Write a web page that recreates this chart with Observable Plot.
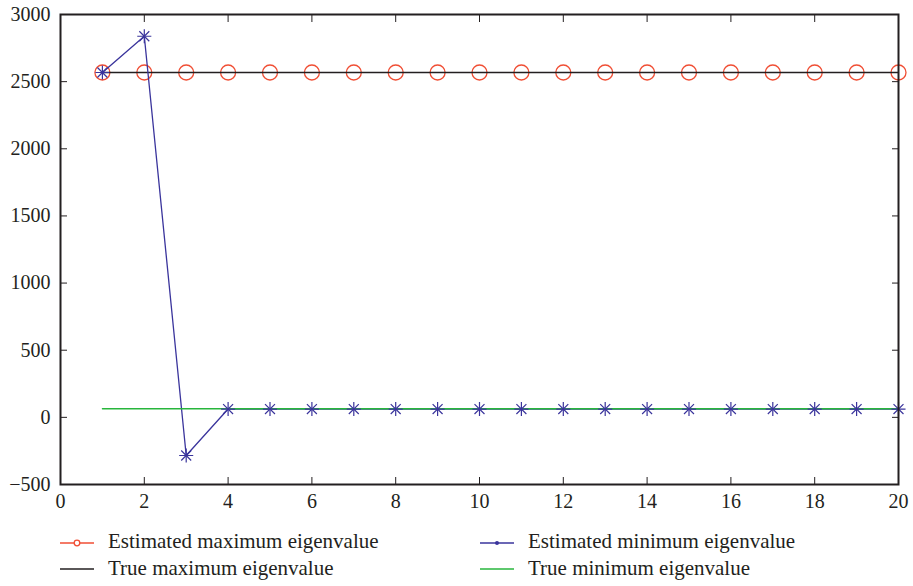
<!DOCTYPE html>
<html>
<head>
<meta charset="utf-8">
<script src="https://cdn.jsdelivr.net/npm/d3@7"></script>
<script src="https://cdn.jsdelivr.net/npm/@observablehq/plot@0.6"></script>
<style>
  html, body { margin: 0; padding: 0; background: #fff; }
  #wrap { position: relative; width: 913px; height: 586px; background: #fff; font-family: "Liberation Serif", "Times New Roman", serif; color: #231f20; }
  #chart svg { display: block; }
  .lg-text { position: absolute; font-size: 21px; line-height: 24px; white-space: nowrap; font-family: "Liberation Serif", "Times New Roman", serif; }
  #legend-sw { position: absolute; left: 0; top: 0; }
</style>
</head>
<body>
<div id="wrap">
  <div id="chart"></div>
</div>
<script>
// ---- data ----
const iterations = [1,2,3,4,5,6,7,8,9,10,11,12,13,14,15,16,17,18,19,20];
const estimatedMax = [2568,2568,2568,2568,2568,2568,2568,2568,2568,2568,2568,2568,2568,2568,2568,2568,2568,2568,2568,2568];
const estimatedMin = [2568,2838,-284,62,62,62,62,62,62,62,62,62,62,62,62,62,62,62,62,62];
const trueMax = [2568,2568,2568,2568,2568,2568,2568,2568,2568,2568,2568,2568,2568,2568,2568,2568,2568,2568,2568,2568];
const trueMin = [64,64,64,64,64,64,64,64,64,64,64,64,64,64,64,64,64,64,64,64];
const xTicks = [0,2,4,6,8,10,12,14,16,18,20];
const yTicks = [-500,0,500,1000,1500,2000,2500,3000];
const seriesNames = ["Estimated maximum eigenvalue", "Estimated minimum eigenvalue", "True maximum eigenvalue", "True minimum eigenvalue"];

const RED = "rgb(240,78,52)";
const BLUE = "rgb(58,52,156)";
const GREEN = "rgb(40,182,60)";
const BLACK = "#231f20";
const FONT = "'Liberation Serif', 'Times New Roman', serif";

const rows = (ys) => iterations.map((x, i) => ({x, y: ys[i]}));
const dMaxE = rows(estimatedMax), dMinE = rows(estimatedMin), dMaxT = rows(trueMax), dMinT = rows(trueMin);
const fmt = d3.format("d");

const chart = Plot.plot({
  width: 913,
  height: 515,
  marginLeft: 60,
  marginRight: 15,
  marginTop: 14,
  marginBottom: 31,
  x: {domain: [0, 20], label: null},
  y: {domain: [-500, 3000], label: null},
  style: {fontFamily: FONT, fontSize: "20px", color: BLACK, background: "white", overflow: "visible"},
  marks: [
    Plot.axisX({anchor: "bottom", ticks: xTicks, tickFormat: fmt, tickSize: -7, tickPadding: 16, stroke: BLACK, fill: BLACK, fontFamily: FONT, fontSize: 20}),
    Plot.axisY({anchor: "left", ticks: yTicks, tickFormat: fmt, tickSize: -7, tickPadding: 17, stroke: BLACK, fill: BLACK, fontFamily: FONT, fontSize: 20}),
    Plot.axisX({anchor: "top", ticks: xTicks, tickSize: -7, tickFormat: () => "", stroke: BLACK}),
    Plot.axisY({anchor: "right", ticks: yTicks, tickSize: -7, tickFormat: () => "", stroke: BLACK}),
    Plot.lineY(dMaxE, {x: "x", y: "y", stroke: RED, strokeWidth: 1.2}),
    Plot.dot(dMaxE, {x: "x", y: "y", r: 7.5, stroke: RED, strokeWidth: 1.3, fill: "none"}),
    Plot.lineY(dMaxT, {x: "x", y: "y", stroke: BLACK, strokeWidth: 1.3}),
    Plot.lineY(dMinE, {x: "x", y: "y", stroke: BLUE, strokeWidth: 1.3}),
    Plot.lineY(dMinT, {x: "x", y: "y", stroke: GREEN, strokeWidth: 1.3}),
    Plot.dot(dMinE, {x: "x", y: "y", symbol: "plus", r: 4.6, stroke: BLUE, strokeWidth: 1.2}),
    Plot.dot(dMinE, {x: "x", y: "y", symbol: "times", r: 4.6, stroke: BLUE, strokeWidth: 1.2}),
    Plot.frame({stroke: BLACK, strokeWidth: 2})
  ]
});
document.getElementById("chart").appendChild(chart);

// ---- legend (HTML below the SVG) ----
const wrap = document.getElementById("wrap");
const legendItems = [
  {name: seriesNames[0], color: RED, marker: "circle", sx: 60, tx: 108, row: 0},
  {name: seriesNames[1], color: BLUE, marker: "dot", sx: 480, tx: 528, row: 0},
  {name: seriesNames[2], color: BLACK, marker: null, sx: 60, tx: 108, row: 1},
  {name: seriesNames[3], color: GREEN, marker: null, sx: 480, tx: 528, row: 1}
];
const rowMid = [543, 569];
const rowTop = [529, 556];
const ns = "http://www.w3.org/2000/svg";
const sw = document.createElementNS(ns, "svg");
sw.setAttribute("id", "legend-sw");
sw.setAttribute("width", 913);
sw.setAttribute("height", 586);
sw.style.pointerEvents = "none";
for (const it of legendItems) {
  const y = rowMid[it.row];
  const ln = document.createElementNS(ns, "line");
  ln.setAttribute("x1", it.sx); ln.setAttribute("x2", it.sx + 34);
  ln.setAttribute("y1", y); ln.setAttribute("y2", y);
  ln.setAttribute("stroke", it.color); ln.setAttribute("stroke-width", 1.6);
  sw.appendChild(ln);
  if (it.marker) {
    const c = document.createElementNS(ns, "circle");
    c.setAttribute("cx", it.sx + 17); c.setAttribute("cy", y);
    if (it.marker === "circle") {
      c.setAttribute("r", 2.8); c.setAttribute("fill", "white");
      c.setAttribute("stroke", it.color); c.setAttribute("stroke-width", 1.3);
    } else {
      c.setAttribute("r", 2); c.setAttribute("fill", it.color);
    }
    sw.appendChild(c);
  }
  const t = document.createElement("div");
  t.className = "lg-text";
  t.style.left = it.tx + "px";
  t.style.top = rowTop[it.row] + "px";
  t.textContent = it.name;
  wrap.appendChild(t);
}
wrap.appendChild(sw);
</script>
</body>
</html>
